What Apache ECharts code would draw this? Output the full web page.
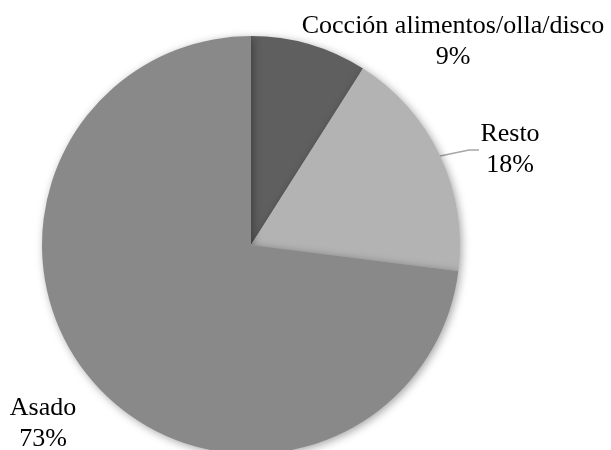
<!DOCTYPE html>
<html><head><meta charset="utf-8">
<script src="https://cdn.jsdelivr.net/npm/echarts@6/dist/echarts.min.js"></script>
<style>html,body{margin:0;padding:0;background:#fff}#c{width:611px;height:450px}</style>
</head><body><div id="c"></div>
<script>
const categories = ['Cocción alimentos/olla/disco', 'Resto', 'Asado'];
const values = [9, 18, 73];
const colors = ['#5f5f5f', '#b3b3b3', '#898989'];
const labelPos = [
  {x: 453, y: 42},
  {x: 510, y: 150},
  {x: 43, y: 424}
];
const labelWidths = [330, 62, 80];
const chart = echarts.init(document.getElementById('c'), null, {renderer: 'canvas'});
chart.setOption({
  backgroundColor: '#fff',
  animation: false,
  series: [{
    type: 'pie',
    center: [251, 245],
    radius: 209,
    startAngle: 90,
    clockwise: true,
    data: categories.map((n, i) => ({
      name: n, value: values[i],
      itemStyle: {color: colors[i]},
      label: {width: labelWidths[i]},
      labelLine: {show: i === 1, lineStyle: {color: '#a6a6a6', width: 1.5}}
    })),
    itemStyle: {shadowBlur: 8, shadowColor: 'rgba(0,0,0,0.35)', shadowOffsetX: 2, shadowOffsetY: 2},
    emphasis: {disabled: true},
    label: {
      show: true,
      position: 'outside',
      formatter: p => p.name + '\n' + Math.round(p.percent) + '%',
      fontFamily: 'Liberation Serif',
      fontSize: 26,
      lineHeight: 31,
      color: '#000',
      align: 'center',
      overflow: 'none'
    },
    labelLine: {length: 15, length2: 10},
    labelLayout: function (params) {
      const p = labelPos[params.dataIndex];
      return {x: p.x, y: p.y, align: 'center', verticalAlign: 'middle'};
    }
  }]
});
</script></body></html>
